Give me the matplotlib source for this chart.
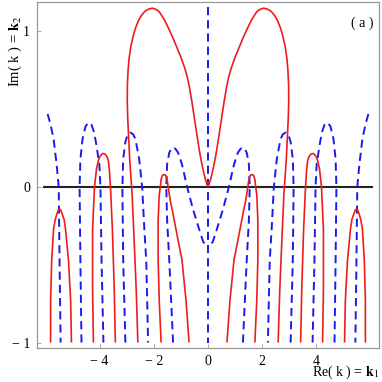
import numpy as np
import matplotlib
matplotlib.use("Agg")
import matplotlib.pyplot as plt

plt.rcParams['font.family'] = ['Liberation Serif', 'DejaVu Serif']
plt.rcParams['mathtext.fontset'] = 'stix'

# ---- traced curves (left half, x = Re k, y = Im k); right half is the mirror image ----
# red: Re-part zero contours
red_big_x = [-2.59, -2.62, -2.65, -2.70, -2.75, -2.80, -2.84, -2.89, -2.93, -2.965, -2.98, -2.975, -2.95,
             -2.91, -2.85, -2.77, -2.68, -2.58, -2.47, -2.33, -2.20, -2.06, -1.93, -1.80, -1.70, -1.60,
             -1.45, -1.30, -1.15, -1.00, -0.92, -0.85, -0.77, -0.70, -0.60, -0.50, -0.40, -0.30, -0.20,
             -0.10, 0.0]
red_big_y = [-1.00, -0.82, -0.66, -0.45, -0.25, -0.05, 0.05, 0.18, 0.32, 0.45, 0.56, 0.66, 0.75,
             0.83, 0.90, 0.965, 1.02, 1.065, 1.10, 1.13, 1.143, 1.15, 1.143, 1.127, 1.10, 1.071,
             1.018, 0.961, 0.898, 0.834, 0.795, 0.760, 0.71, 0.655, 0.555, 0.44, 0.325, 0.215, 0.125,
             0.05, 0.0]

red_a_x = [-5.81, -5.81, -5.77, -5.70, -5.64, -5.59, -5.53, -5.48, -5.43, -5.37, -5.31, -5.26, -5.15, -5.07, -5.04]
red_a_y = [-1.00, -0.73, -0.47, -0.27, -0.21, -0.18, -0.15, -0.14, -0.15, -0.18, -0.21, -0.27, -0.47, -0.73, -1.00]

red_b_x = [-4.23, -4.26, -4.26, -4.19, -4.12, -4.06, -4.01, -3.93, -3.86, -3.79, -3.71, -3.67, -3.64, -3.60, -3.53, -3.46, -3.42]
red_b_y = [-1.00, -0.66, -0.27, 0.00, 0.11, 0.16, 0.19, 0.21, 0.216, 0.21, 0.19, 0.16, 0.11, 0.00, -0.27, -0.66, -1.00]

red_c_x = [-1.73, -1.80, -1.84, -1.84, -1.80, -1.76, -1.73, -1.68, -1.62, -1.56, -1.51, -1.47, -1.40, -1.32, -1.14, -0.96, -0.81, -0.70]
red_c_y = [-1.00, -0.73, -0.47, -0.21, -0.05, 0.00, 0.05, 0.075, 0.08, 0.075, 0.05, 0.00, -0.08, -0.145, -0.31, -0.47, -0.73, -1.00]

# blue dashed: Im-part zero contours
blue_1_x = [-5.92, -5.81, -5.70, -5.59, -5.51, -5.48, -5.44]
blue_1_y = [0.47, 0.40, 0.31, 0.15, 0.00, -0.47, -1.00]

blue_2_x = [-4.67, -4.71, -4.74, -4.71, -4.63, -4.52, -4.41, -4.30, -4.20, -4.12, -4.01, -3.97, -3.93, -3.86]
blue_2_y = [-1.00, -0.47, 0.00, 0.18, 0.31, 0.39, 0.415, 0.40, 0.35, 0.27, 0.145, 0.00, -0.47, -1.00]

blue_3_x = [-3.05, -3.13, -3.16, -3.13, -3.05, -2.96, -2.87, -2.77, -2.68, -2.54, -2.43, -2.35, -2.28, -2.21]
blue_3_y = [-1.00, -0.47, 0.00, 0.18, 0.29, 0.34, 0.35, 0.34, 0.31, 0.18, 0.00, -0.27, -0.47, -1.00]

blue_4_x = [-1.29, -1.36, -1.43, -1.51, -1.54, -1.51, -1.43, -1.36, -1.29, -1.20, -1.10, -0.96, -0.77,
            -0.55, -0.33, -0.18, -0.08, 0.0]
blue_4_y = [-1.00, -0.73, -0.47, -0.21, 0.00, 0.145, 0.22, 0.245, 0.255, 0.245, 0.22, 0.145, 0.00,
            -0.145, -0.27, -0.35, -0.38, -0.385]

blue_axis_x = [0.0, 0.0]
blue_axis_y = [1.16, -1.00]

zero_line_x = [-6.07, 6.07]
zero_line_y = [0.0, 0.0]

x_ticks = [-4, -2, 0, 2, 4]
x_ticklabels = ['\u2212 4', '\u2212 2', '0', '2', '4']
y_ticks = [-1, 0, 1]
y_ticklabels = ['\u2212 1', '0', '1']

red_curves = [(red_big_x, red_big_y), (red_a_x, red_a_y), (red_b_x, red_b_y), (red_c_x, red_c_y)]
blue_curves = [(blue_1_x, blue_1_y), (blue_2_x, blue_2_y), (blue_3_x, blue_3_y), (blue_4_x, blue_4_y)]

fig = plt.figure(figsize=(3.82, 3.82), dpi=100)
ax = fig.add_axes([0.097, 0.089, 0.895, 0.906])

ax.plot(zero_line_x, zero_line_y, color='#222222', lw=1.5, zorder=1)

red_kw = dict(color='#ee1c1c', lw=1.2, zorder=3, solid_capstyle='butt', solid_joinstyle='round')
blue_kw = dict(color='#1a1aee', lw=1.4, ls=(0, (4.2, 2.6)), zorder=2)

for xs, ys in red_curves:
    xs = np.asarray(xs); ys = np.asarray(ys)
    ax.plot(xs, ys, **red_kw)
    ax.plot(-xs, ys, **red_kw)
for xs, ys in blue_curves:
    xs = np.asarray(xs); ys = np.asarray(ys)
    ax.plot(xs, ys, **blue_kw)
    ax.plot(-xs, ys, **blue_kw)
ax.plot(blue_axis_x, blue_axis_y, **blue_kw)

ax.set_xlim(-6.31, 6.31)
ax.set_ylim(-1.035, 1.19)
ax.set_xticks(x_ticks)
ax.set_xticklabels(x_ticklabels, fontsize=10)
ax.set_yticks(y_ticks)
ax.set_yticklabels(y_ticklabels, fontsize=10)
ax.tick_params(direction='in', length=3, width=0.6, color='#999999', pad=5)
for s in ax.spines.values():
    s.set_color('#999999')
    s.set_linewidth(0.9)

fig.text(0.993, 0.003, r'Re( k ) = $\mathbf{k}_{1}$', fontsize=10, ha='right', va='bottom')
fig.text(0.04, 0.865, r'Im( k ) = $\mathbf{k}_{2}$', fontsize=10.5, ha='center', va='center', rotation=90)
ax.text(0.95, 0.939, '( a )', transform=ax.transAxes, fontsize=10, ha='center', va='center')

fig.savefig('out.png', dpi=100)
